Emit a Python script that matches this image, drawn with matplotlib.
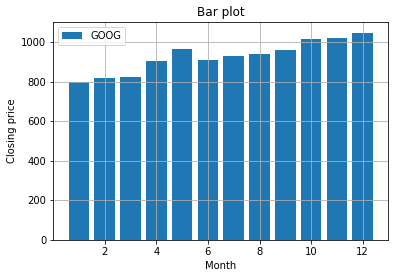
import matplotlib
matplotlib.use('Agg')
import matplotlib.pyplot as plt

# Monthly closing price of GOOG
months = [1, 2, 3, 4, 5, 6, 7, 8, 9, 10, 11, 12]
closing = [797, 821, 826, 903, 965, 909, 929, 940, 960, 1017, 1022, 1048]

fig = plt.figure(figsize=(395 / 72, 278 / 72), dpi=72)
ax = fig.add_axes([53.3 / 395, 1 - 240 / 278, (388.3 - 53.3) / 395, (240 - 22.3) / 278])
ax.bar(months, closing, label='GOOG')
ax.set_xlabel('Month')
ax.set_ylabel('Closing price')
ax.set_title('Bar plot')
ax.legend(loc='upper left')
ax.grid(True)
fig.savefig('out.png', dpi=72)
